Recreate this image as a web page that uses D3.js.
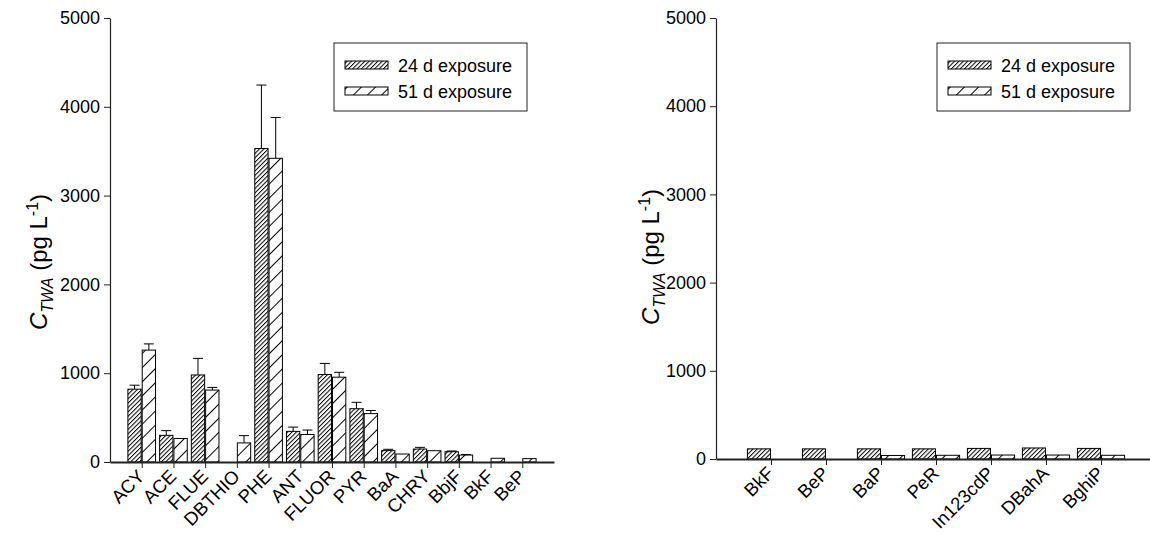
<!DOCTYPE html>
<html>
<head>
<meta charset="utf-8">
<script src="https://cdn.jsdelivr.net/npm/d3@7"></script>
<style>
  body { margin: 0; background: #fff; }
  svg { display: block; font-family: "Liberation Sans", Arial, sans-serif; }
  .axis path, .axis line { stroke: #222; }
  .axis text { fill: #000; font-size: 18px; font-family: "Liberation Sans", Arial, sans-serif; }
  .axis.x text { font-size: 18.5px; }
</style>
</head>
<body>
<svg id="chart" width="1150" height="537"></svg>
<script>
// data
var leftCats = ["ACY", "ACE", "FLUE", "DBTHIO", "PHE", "ANT", "FLUOR", "PYR", "BaA", "CHRY", "BbjF", "BkF", "BeP"];
var left24 = [820, 300, 980, 0, 3530, 345, 985, 600, 128, 146, 116, 0, 0];
var left24Err = [45, 53, 187, 0, 715, 48, 125, 72, 15, 19, 8, 0, 0];
var left51 = [1260, 265, 810, 215, 3420, 310, 955, 545, 90, 127, 78, 42, 38];
var left51Err = [70, 0, 30, 82, 460, 50, 55, 35, 0, 0, 6, 0, 0];

var rightCats = ["BkF", "BeP", "BaP", "PeR", "In123cdP", "DBahA", "BghiP"];
var right24 = [115, 115, 115, 115, 120, 125, 120];
var right51 = [0, 0, 40, 42, 45, 45, 42];

var seriesNames = ["24 d exposure", "51 d exposure"];
var yTicks = [0, 1000, 2000, 3000, 4000, 5000];

var svg = d3.select("#chart");

// hatch patterns, page aligned like the original
var defs = svg.append("defs");
function hatch(id, gap) {
    var p = defs.append("pattern")
        .attr("id", id)
        .attr("patternUnits", "userSpaceOnUse")
        .attr("width", gap)
        .attr("height", gap)
        .attr("patternTransform", "rotate(45)");
    p.append("rect").attr("width", gap).attr("height", gap).attr("fill", "#fff");
    p.append("line")
        .attr("x1", 0.5).attr("y1", 0)
        .attr("x2", 0.5).attr("y2", gap)
        .attr("stroke", "#000")
        .attr("stroke-width", 1);
}
hatch("dense", 3.1);
hatch("sparse", 10);
var fills = ["url(#dense)", "url(#sparse)"];

function drawPanel(opt) {
    var cats = opt.cats;
    var x = d3.scaleLinear().domain([-1, cats.length]).range([opt.x0, opt.x1]);
    var y = d3.scaleLinear().domain([0, 5000]).range([opt.y0, opt.y1]);
    var step = x(1) - x(0);
    var bw = step * 0.42;

    var g = svg.append("g");

    // bars
    var series = [opt.s24, opt.s51];
    var errs = [opt.e24, opt.e51];
    series.forEach(function (vals, k) {
        var data = vals.map(function (v, i) { return { i: i, v: v, e: errs[k] ? errs[k][i] : 0 }; })
            .filter(function (d) { return d.v > 0; });
        var bx = function (d) { return k === 0 ? x(d.i) - bw - 0.5 : x(d.i) + 0.5; };

        // error bars (upper half only)
        g.selectAll(null)
            .data(data.filter(function (d) { return d.e > 0; }))
            .enter().append("path")
            .attr("d", function (d) {
                var cx = bx(d) + bw / 2, top = y(d.v + d.e), half = opt.cap / 2;
                return "M" + cx + "," + y(d.v) + "V" + top + "M" + (cx - half) + "," + top + "H" + (cx + half);
            })
            .attr("stroke", "#000")
            .attr("stroke-width", 1)
            .attr("fill", "none");

        g.selectAll(null)
            .data(data)
            .enter().append("rect")
            .attr("x", bx)
            .attr("y", function (d) { return y(d.v); })
            .attr("width", bw)
            .attr("height", function (d) { return y(0) - y(d.v); })
            .attr("fill", fills[k])
            .attr("stroke", "#000")
            .attr("stroke-width", 1);
    });

    // y axis
    var ya = g.append("g")
        .attr("class", "axis y")
        .attr("transform", "translate(" + opt.x0 + ",0)")
        .call(d3.axisLeft(y).tickValues(yTicks).tickFormat(d3.format("d")).tickSize(6).tickSizeOuter(0).tickPadding(4));
    ya.select(".domain").attr("stroke-width", 1.2);

    // x axis
    var xa = g.append("g")
        .attr("class", "axis x")
        .attr("transform", "translate(0," + opt.y0 + ")")
        .call(d3.axisBottom(x).tickValues(d3.range(cats.length))
            .tickFormat(function (i) { return cats[i]; })
            .tickSize(6).tickSizeOuter(0));
    xa.select(".domain").attr("stroke-width", 1.8);
    xa.selectAll(".tick text")
        .attr("text-anchor", "end")
        .attr("dy", "0.35em")
        .attr("y", 0)
        .attr("transform", "translate(-1,11) rotate(-45)");

    // y label
    var lab = g.append("text")
        .attr("transform", "translate(" + opt.labX + "," + opt.labY + ") rotate(-90)")
        .attr("text-anchor", "middle")
        .attr("font-size", 24);
    lab.append("tspan").attr("font-style", "italic").text("C");
    lab.append("tspan").attr("font-style", "italic").attr("font-size", 16).attr("dy", 6).text("TWA");
    lab.append("tspan").attr("dy", -6).text(" (pg L");
    lab.append("tspan").attr("font-size", 16).attr("dy", -9).text("-1");
    lab.append("tspan").attr("dy", 9).text(")");

    // legend
    var lg = g.append("g").attr("transform", "translate(" + opt.legX + "," + opt.legY + ")");
    lg.append("rect")
        .attr("width", 193).attr("height", 68)
        .attr("fill", "#fff").attr("stroke", "#222").attr("stroke-width", 1);
    seriesNames.forEach(function (name, k) {
        lg.append("rect")
            .attr("x", 11).attr("y", 18 + k * 26)
            .attr("width", 43).attr("height", 8)
            .attr("fill", fills[k]).attr("stroke", "#000").attr("stroke-width", 1);
        lg.append("text")
            .attr("x", 64).attr("y", 29 + k * 26)
            .attr("font-size", 18)
            .text(name);
    });
}

drawPanel({
    cats: leftCats, s24: left24, s51: left51, e24: left24Err, e51: left51Err,
    x0: 110, x1: 554, y0: 462, y1: 18, cap: 10,
    labX: 47, labY: 262, legX: 334, legY: 43
});

drawPanel({
    cats: rightCats, s24: right24, s51: right51, e24: null, e51: null,
    x0: 716, x1: 1156, y0: 459, y1: 18, cap: 10,
    labX: 659, labY: 257, legX: 937, legY: 43
});
</script>
</body>
</html>
